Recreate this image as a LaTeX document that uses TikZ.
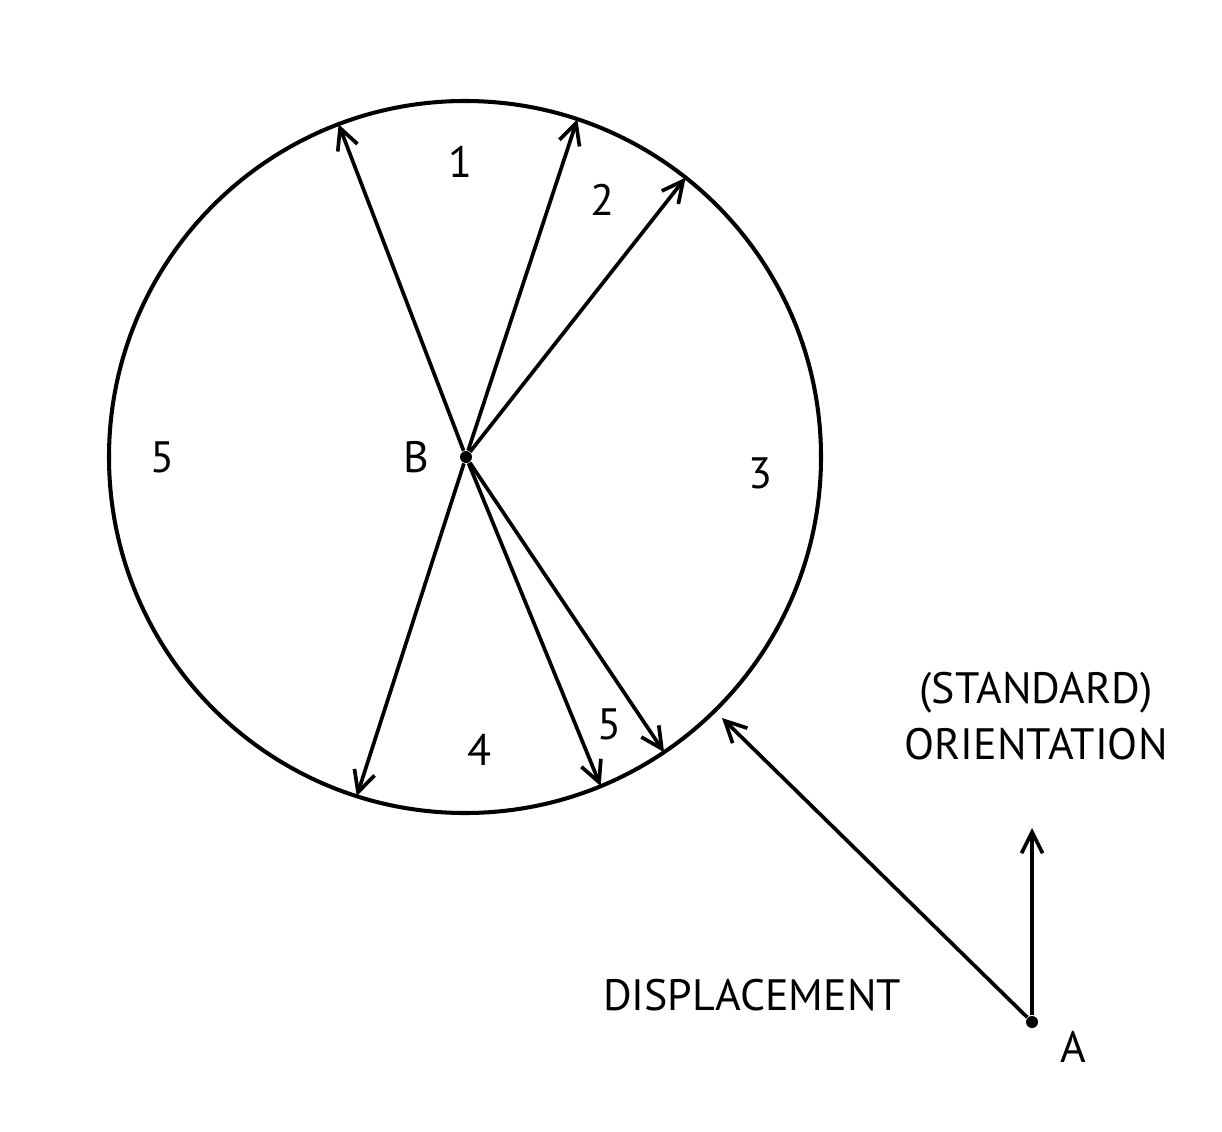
\documentclass[tikz,border=0pt]{standalone}
\usepackage{fontspec}
\setmainfont{PT Sans}
\usepackage{xcolor}
\usepackage{tikz}
\usetikzlibrary{arrows.meta, positioning, calc}

\begin{document}
\begin{tikzpicture}[
    node distance = 0.1cm,
    tag/.style = {inner sep=1pt, font=\fontsize{12.5}{14}\selectfont},
    point/.style = {circle, fill=black, inner sep=0pt, minimum size=0.12cm},
    rim/.style = {line width=1.15pt},
    arrow/.style = {line width=1.05pt, -{Straight Barb[length=6pt, width=6pt, line width=1.05pt]}}
]
\useasboundingbox (0,0) rectangle (12.22,11.31);

% Circle around B
\node (B) [point] at (4.66,6.74) {};
\draw [rim] (4.65,6.74) circle (3.56);
\node (Blabel) [tag, left=0.26cm of B] {B};

% Arrows from B to the rim
\foreach \ang/\name in {110.8/r1, 71.6/r2, 51.7/r3, 252.3/r4, 292.4/r5, 304.0/r6} {
    \coordinate (\name) at ($(4.65,6.74)+(\ang:3.56)$);
    \draw [arrow] (B) -- (\name);
}

% Region numbers
\node (n1) [tag] at (4.60,9.69) {1};
\node (n2) [tag] at (6.02,9.31) {2};
\node (n3) [tag] at (7.60,6.58) {3};
\node (n5a) [tag] at (1.62,6.74) {5};
\node (n4) [tag] at (4.79,3.81) {4};
\node (n5b) [tag] at (6.09,4.07) {5};

% Point A with orientation and displacement
\node (A) [point] at (10.32,1.09) {};
\node (Alabel) [tag, below right=0cm and 0.2cm of A] {A};
\coordinate (top) at (10.32,3.03);
\coordinate (hit) at (7.22,4.13);
\draw [arrow] (A) -- (top);
\draw [arrow] (A) -- (hit);

\node (std) [tag] at (10.36,4.38) {(STANDARD)};
\node (orient) [tag, below=0.06cm of std] {ORIENTATION};
\node (disp) [tag] at (7.52,1.36) {DISPLACEMENT};

\end{tikzpicture}
\end{document}
